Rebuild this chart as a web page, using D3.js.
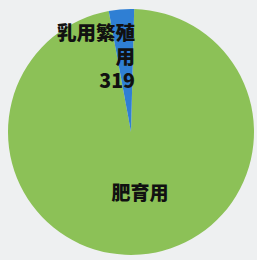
<!DOCTYPE html>
<html>
<head>
<meta charset="utf-8">
<script src="https://cdn.jsdelivr.net/npm/d3@7"></script>
<style>
  body { margin: 0; background: #eef0f1; }
  svg { display: block; }
  .lbl { font-family: "Noto Sans CJK JP", sans-serif; font-weight: 900; fill: #111; }
</style>
</head>
<body>
<div id="pie"></div>
<script>
var categories = ['肥育用', '乳用繁殖用'];
var values = [9300, 319];
var colors = ['#8cc157', '#2f7fd4'];

var width = 257, height = 260;
var cx = 131, cy = 132, radius = 123;
var tilt = 0.026; // scan is slightly rotated

var svg = d3.select('#pie').append('svg')
    .attr('width', width)
    .attr('height', height);

var g = svg.append('g')
    .attr('transform', 'translate(' + cx + ',' + cy + ')');

var pie = d3.pie().sort(null)
    .startAngle(tilt)
    .endAngle(2 * Math.PI + tilt)
    .value(function(d) { return d; });
var arc = d3.arc().innerRadius(0).outerRadius(radius);
var arcs = pie(values);

g.selectAll('path')
    .data(arcs)
    .enter().append('path')
    .attr('d', arc)
    .style('fill', function(d, i) { return colors[i]; });

// label of big slice
g.append('text')
    .attr('class', 'lbl')
    .attr('x', 9)
    .attr('y', 68)
    .style('font-size', '19px')
    .style('text-anchor', 'middle')
    .text(categories[0]);

// label of small slice, wrapped like the original
var small = g.append('text')
    .attr('class', 'lbl')
    .style('font-size', '19.5px')
    .style('text-anchor', 'end');
var lines = ['乳用繁殖', '用', values[1]];
lines.forEach(function(t, i) {
    small.append('tspan')
        .attr('x', 4)
        .attr('y', -92 + i * 24)
        .text(t);
});
</script>
</body>
</html>
